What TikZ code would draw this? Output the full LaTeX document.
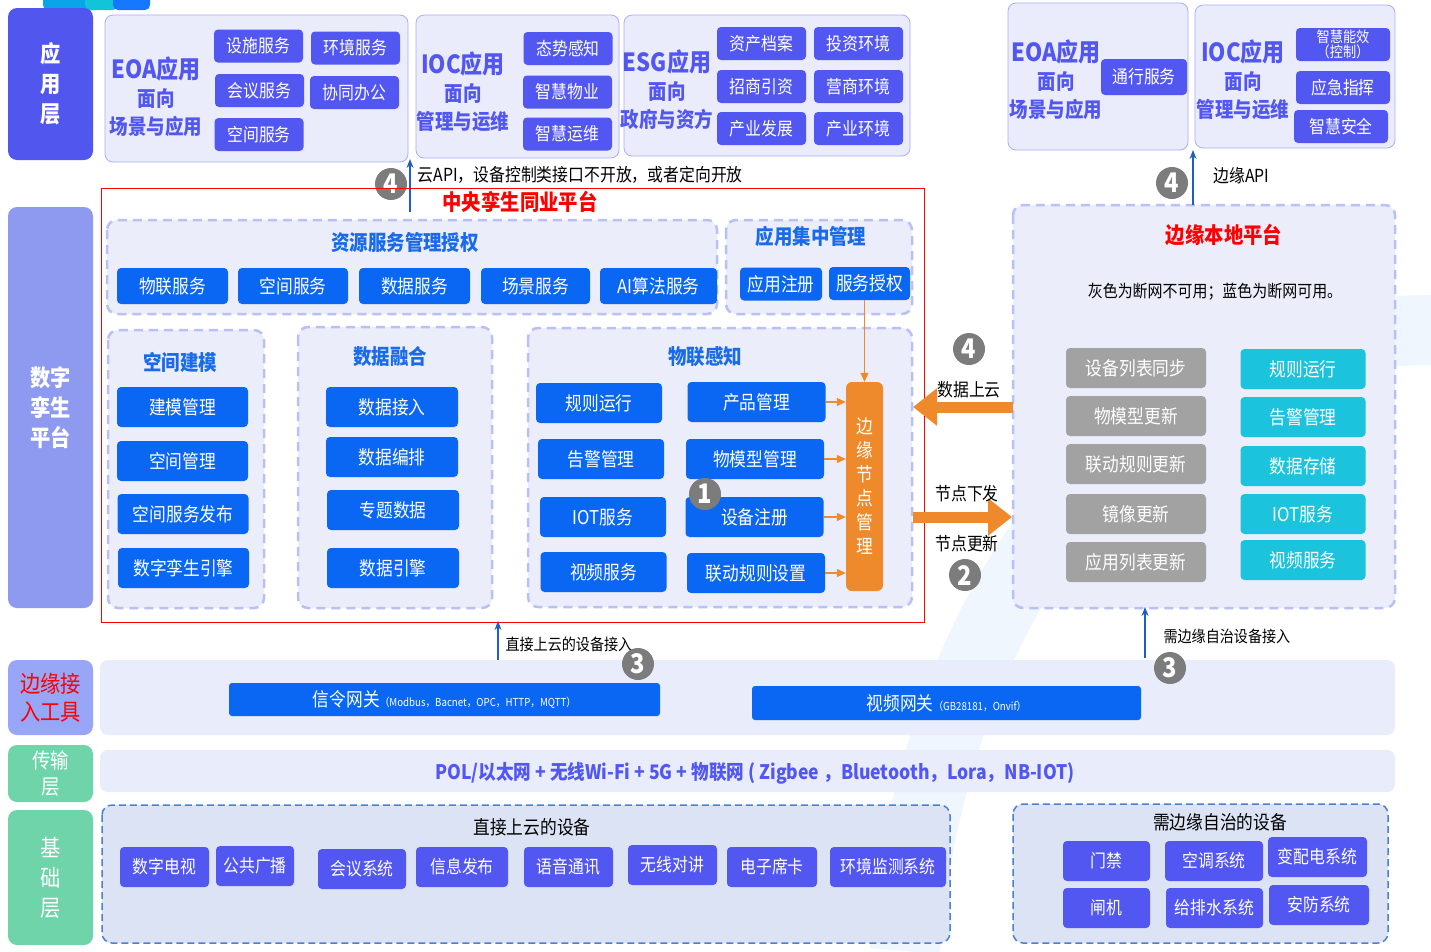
\documentclass[tikz,border=0pt]{standalone}
\usepackage{fontspec}
\setmainfont{Noto Sans CJK SC}[FakeStretch=0.88]
\usepackage{xcolor}
\usetikzlibrary{arrows.meta}
\definecolor{appblue}{HTML}{5257F1}
\definecolor{appbg}{HTML}{EAEBFB}
\definecolor{appedge}{HTML}{A9AFF4}
\definecolor{btnblue}{HTML}{0A67F3}
\definecolor{titleblue}{HTML}{1A6BEA}
\definecolor{dashblue}{HTML}{B8C0F6}
\definecolor{grpbg}{HTML}{ECEDFB}
\definecolor{nodeorange}{HTML}{EE8A2B}
\definecolor{badgegray}{HTML}{7C7C7C}
\definecolor{offgray}{HTML}{A2A2A2}
\definecolor{oncyan}{HTML}{1BC3DC}
\definecolor{lyrapp}{HTML}{5157EE}
\definecolor{lyrtwin}{HTML}{8D9AF0}
\definecolor{lyredge}{HTML}{97A6F6}
\definecolor{lyrgreen}{HTML}{6FD4AA}
\definecolor{bandbg}{HTML}{E9ECFA}
\definecolor{fndbg}{HTML}{DCE3F4}
\definecolor{fndedge}{HTML}{4C80D2}
\definecolor{apiblue}{HTML}{1F5FC0}
\definecolor{bgarc}{HTML}{EFF6FD}

\begin{document}
\begin{tikzpicture}[x=1pt,y=-1pt,
  layer/.style={rounded corners=9pt, inner sep=0pt, align=center, text=white},
  appbox/.style={draw=appedge, fill=appbg, rounded corners=8pt, line width=0.8pt},
  apptitle/.style={text=appblue, align=center, font=\fontsize{21}{28}\selectfont\bfseries},
  appbtn/.style={fill=appblue, rounded corners=4pt, text=white, inner sep=0pt,
    minimum width=89pt, minimum height=33pt, font=\fontsize{18}{20}\selectfont},
  grp/.style={draw=dashblue, fill=grpbg, dash pattern=on 9pt off 6pt, line width=2.5pt, rounded corners=10pt},
  grptitle/.style={text=titleblue, font=\fontsize{21}{23}\selectfont\bfseries},
  bbtn/.style={fill=btnblue, rounded corners=4pt, text=white, inner sep=0pt,
    minimum height=40pt, font=\fontsize{19}{21}\selectfont},
  gbtn/.style={bbtn, fill=offgray, minimum width=140pt},
  cbtn/.style={bbtn, fill=oncyan, minimum width=125pt},
  fbtn/.style={appbtn, minimum height=40pt},
  badge/.style={circle, fill=badgegray, text=white, inner sep=0pt, minimum size=32pt,
    font=\fontsize{27}{27}\selectfont\bfseries},
  note/.style={text=black, font=\fontsize{17}{20}\selectfont},
  redtitle/.style={text=red, font=\fontsize{22}{24}\selectfont\bfseries},
  apiarrow/.style={draw=apiblue, line width=1.2pt, -{Stealth[length=9pt,width=7pt]}},
  thinorange/.style={draw=nodeorange, line width=1.2pt, -{Triangle[length=9pt,width=8pt]}},
  bigarrow/.style={draw=nodeorange, line width=11pt, -{Triangle[length=24pt,width=36pt]}},
  band/.style={fill=bandbg, rounded corners=8pt},
  fnd/.style={draw=fndedge, fill=fndbg, dash pattern=on 7pt off 4pt, line width=1.5pt, rounded corners=10pt}]
\useasboundingbox (0,0) rectangle (1431,951);
\fill[white] (0,0) rectangle (1431,951);
% faint swoosh behind the right half
\draw[line width=70pt, bgarc] (1431,330) .. controls (1120,330) and (930,620) .. (905,951);

% tabs at the top
\fill[rounded corners=5pt, fill={rgb,255:red,10;green,165;blue,232}] (43,-8) rectangle (100,10);
\fill[rounded corners=5pt, fill={rgb,255:red,18;green,196;blue,216}] (85,-8) rectangle (118,10);
\fill[rounded corners=5pt, fill={rgb,255:red,22;green,119;blue,255}] (113,-8) rectangle (150,10);

% layers
\node[layer, fill=lyrapp, minimum width=85pt, minimum height=152pt, font=\fontsize{23}{30}\selectfont\bfseries] (lApp) at (50.5,84) {应\\用\\层};
\node[layer, fill=lyrtwin, minimum width=85pt, minimum height=401pt, font=\fontsize{23}{30}\selectfont\bfseries] (lTwin) at (50.5,407.5) {数字\\孪生\\平台};
\node[layer, fill=lyredge, minimum width=85pt, minimum height=75pt, text=red, font=\fontsize{23}{28}\selectfont] (lEdge) at (50.5,697.5) {边缘接\\入工具};
\node[layer, fill=lyrgreen, minimum width=85pt, minimum height=57pt, font=\fontsize{21}{26}\selectfont] (lNet) at (50.5,773.5) {传输\\层};
\node[layer, fill=lyrgreen, minimum width=85pt, minimum height=135pt, font=\fontsize{23}{30}\selectfont] (lBase) at (50.5,877.5) {基\\础\\层};

% application layer
\draw[appbox] (105,15) rectangle (408,162);
\node[apptitle] (eoaT) at (156,97) {{\fontsize{25}{28}\selectfont EOA应用}\\面向\\场景与应用};
\node[appbtn] (eoa1) at (258.5,46) {设施服务};
\node[appbtn] (eoa2) at (355.5,48) {环境服务};
\node[appbtn] (eoa3) at (259.5,90.5) {会议服务};
\node[appbtn] (eoa4) at (354.5,92.5) {协同办公};
\node[appbtn] (eoa5) at (259,134.5) {空间服务};

\draw[appbox] (416,15) rectangle (619,158);
\node[apptitle] (iocT) at (463,92) {{\fontsize{25}{28}\selectfont IOC应用}\\面向\\管理与运维};
\node[appbtn] (ioc1) at (568,48.5) {态势感知};
\node[appbtn] (ioc2) at (567.5,92) {智慧物业};
\node[appbtn] (ioc3) at (567.5,134) {智慧运维};

\draw[appbox] (624,15) rectangle (910,156);
\node[apptitle] (esgT) at (667,90) {{\fontsize{25}{28}\selectfont ESG应用}\\面向\\政府与资方};
\node[appbtn] (esg1) at (761.5,43.5) {资产档案};
\node[appbtn] (esg2) at (858.5,43.5) {投资环境};
\node[appbtn] (esg3) at (761.5,86.5) {招商引资};
\node[appbtn] (esg4) at (858.5,86.5) {营商环境};
\node[appbtn] (esg5) at (761.5,128.5) {产业发展};
\node[appbtn] (esg6) at (858.5,128.5) {产业环境};

\draw[appbox] (1008,3) rectangle (1188,150);
\node[apptitle] (eoaT2) at (1056,80) {{\fontsize{25}{28}\selectfont EOA应用}\\面向\\场景与应用};
\node[appbtn, minimum width=86pt, minimum height=36pt] (eoa6) at (1144,77) {通行服务};

\draw[appbox] (1195,5) rectangle (1395,148);
\node[apptitle] (iocT2) at (1243,80) {{\fontsize{25}{28}\selectfont IOC应用}\\面向\\管理与运维};
\node[appbtn, minimum width=94pt, align=center, font=\fontsize{15}{15}\selectfont] (ioc4) at (1343,44.5) {智慧能效\\（控制）};
\node[appbtn, minimum width=94pt] (ioc5) at (1343,87.5) {应急指挥};
\node[appbtn, minimum width=94pt] (ioc6) at (1341,126.5) {智慧安全};

% cloud API
\coordinate (cloudS) at (410,212);
\coordinate (cloudE) at (410,159);
\draw[apiarrow] (cloudS) -- (cloudE);
\node[badge] (b4a) at (391,184) {4};
\node[note, anchor=west, font=\fontsize{18}{20}\selectfont] (cloudL) at (414,175) {云API，设备控制类接口不开放，或者定向开放};

% central twin platform
\draw[red, line width=1pt] (101,188) rectangle (924,622);
\node[redtitle] (cT) at (520,202) {中央孪生同业平台};

\draw[grp] (107,220) rectangle (717,314);
\node[grptitle] (resT) at (405,242) {资源服务管理授权};
\node[bbtn, minimum width=111pt, minimum height=36pt] (res1) at (172.5,286) {物联服务};
\node[bbtn, minimum width=110pt, minimum height=36pt] (res2) at (293,286) {空间服务};
\node[bbtn, minimum width=111pt, minimum height=36pt] (res3) at (414.5,286) {数据服务};
\node[bbtn, minimum width=109pt, minimum height=36pt] (res4) at (535.5,286) {场景服务};
\node[bbtn, minimum width=117pt, minimum height=36pt] (res5) at (658.5,286) {AI算法服务};

\draw[grp] (726,220) rectangle (912,314);
\node[grptitle] (mgtT) at (811,236) {应用集中管理};
\node[bbtn, minimum width=82pt, minimum height=33pt] (areg) at (781,284) {应用注册};
\node[bbtn, minimum width=81pt, minimum height=33pt] (sauth) at (869.5,283.5) {服务授权};

\draw[grp] (108,330) rectangle (264,608);
\node[grptitle] (spT) at (180,362) {空间建模};
\node[bbtn, minimum width=131pt] (sp1) at (182.5,407) {建模管理};
\node[bbtn, minimum width=131pt] (sp2) at (182.5,461) {空间管理};
\node[bbtn, minimum width=131pt] (sp3) at (183,514) {空间服务发布};
\node[bbtn, minimum width=131pt] (sp4) at (183.5,568) {数字孪生引擎};

\draw[grp] (298,327) rectangle (492,608);
\node[grptitle] (dtT) at (390,357) {数据融合};
\node[bbtn, minimum width=132pt] (dt1) at (392,407) {数据接入};
\node[bbtn, minimum width=132pt] (dt2) at (392,457) {数据编排};
\node[bbtn, minimum width=132pt] (dt3) at (393,510) {专题数据};
\node[bbtn, minimum width=132pt] (dt4) at (393,568) {数据引擎};

\draw[grp] (528,328) rectangle (912,607);
\node[grptitle] (iotT) at (705,357) {物联感知};
\node[bbtn, minimum width=126pt] (io1) at (599,403) {规则运行};
\node[bbtn, minimum width=126pt] (io2) at (601,459) {告警管理};
\node[bbtn, minimum width=126pt] (io3) at (603,517) {IOT服务};
\node[bbtn, minimum width=126pt] (io4) at (603.5,572) {视频服务};
\node[bbtn, minimum width=138pt] (pm1) at (756.5,402) {产品管理};
\node[bbtn, minimum width=138pt] (pm2) at (755,459) {物模型管理};
\node[bbtn, minimum width=138pt] (pm3) at (754.5,517) {设备注册};
\node[bbtn, minimum width=138pt] (pm4) at (756,573) {联动规则设置};
\node[fill=nodeorange, rounded corners=6pt, text=white, inner sep=0pt, minimum width=37pt, minimum height=209pt,
  align=center, font=\fontsize{19}{24}\selectfont] (edgeMgr) at (864.5,486.5) {边\\缘\\节\\点\\管\\理};
\draw[thinorange] (pm1.east) -- (edgeMgr.west |- pm1.east);
\draw[thinorange] (pm2.east) -- (edgeMgr.west |- pm2.east);
\draw[thinorange] (pm3.east) -- (edgeMgr.west |- pm3.east);
\draw[thinorange] (pm4.east) -- (edgeMgr.west |- pm4.east);
\draw[thinorange] (edgeMgr.north |- sauth.south) -- (edgeMgr.north);
\node[badge] (b1) at (705,494) {1};

% edge local platform
\draw[grp] (1013,205) rectangle (1395,608);
\node[redtitle] (eT) at (1224,235) {边缘本地平台};
\node[note] (eNote) at (1215,292) {灰色为断网不可用；蓝色为断网可用。};
\node[gbtn] (g1) at (1136,368) {设备列表同步};
\node[gbtn] (g2) at (1136,416) {物模型更新};
\node[gbtn] (g3) at (1136,464) {联动规则更新};
\node[gbtn] (g4) at (1136,514) {镜像更新};
\node[gbtn] (g5) at (1136,562) {应用列表更新};
\node[cbtn] (c1) at (1303,369) {规则运行};
\node[cbtn] (c2) at (1303,417) {告警管理};
\node[cbtn] (c3) at (1303,466) {数据存储};
\node[cbtn] (c4) at (1303,514) {IOT服务};
\node[cbtn] (c5) at (1303,560) {视频服务};

% edge API
\coordinate (edgeS) at (1193,205);
\coordinate (edgeE) at (1193,150);
\draw[apiarrow] (edgeS) -- (edgeE);
\node[badge] (b4b) at (1172,183) {4};
\node[note, anchor=west, font=\fontsize{18}{20}\selectfont] (edgeL) at (1210,176) {边缘API};

% cloud <-> edge
\coordinate (upS) at (1013,407);
\coordinate (upE) at (913,407);
\draw[bigarrow] (upS) -- (upE);
\node[badge] (b4c) at (969,349) {4};
\node[note, font=\fontsize{18}{20}\selectfont] (upL) at (969,390) {数据上云};
\coordinate (downS) at (913,517);
\coordinate (downE) at (1012,517);
\draw[bigarrow] (downS) -- (downE);
\node[note, font=\fontsize{18}{20}\selectfont] (downL) at (967,494) {节点下发};
\node[note, font=\fontsize{18}{20}\selectfont] (updL) at (967,544) {节点更新};
\node[badge] (b2) at (965,575) {2};

% edge access tools
\fill[band] (100,660) rectangle (1395,735);
\node[bbtn, minimum width=431pt, minimum height=33pt, rounded corners=3pt] (sigGw) at (444.5,699.5)
  {信令网关{\fontsize{11}{12}\selectfont （Modbus，Bacnet，OPC，HTTP，MQTT）}};
\node[bbtn, minimum width=389pt, minimum height=34pt, rounded corners=3pt] (vidGw) at (946.5,703)
  {视频网关{\fontsize{11}{12}\selectfont （GB28181，Onvif）}};
\coordinate (dirS) at (498,660);
\coordinate (dirE) at (498,621);
\draw[apiarrow] (dirS) -- (dirE);
\node[note, anchor=west, font=\fontsize{16}{18}\selectfont] (dirL) at (502,644) {直接上云的设备接入};
\node[badge] (b3a) at (638,664) {3};
\coordinate (autS) at (1145,658);
\coordinate (autE) at (1145,607);
\draw[apiarrow] (autS) -- (autE);
\node[note, anchor=west, font=\fontsize{16}{18}\selectfont] (autL) at (1160,636) {需边缘自治设备接入};
\node[badge] (b3b) at (1170,668) {3};

% transmission layer
\fill[band] (100,750) rectangle (1395,792);
\node[text=appblue, font=\fontsize{20}{24}\selectfont\bfseries] (netT) at (755,773)
  {POL/以太网 + 无线Wi-Fi + 5G + 物联网 ( Zigbee ，Bluetooth，Lora，NB-IOT)};

% foundation layer
\draw[fnd] (102,805) rectangle (950,943);
\node[note, font=\fontsize{19}{21}\selectfont] (dirDev) at (532,827) {直接上云的设备};
\node[fbtn, minimum width=89pt] (f1) at (164.5,867) {数字电视};
\node[fbtn, minimum width=78pt] (f2) at (255,866) {公共广播};
\node[fbtn, minimum width=88pt] (f3) at (362,869) {会议系统};
\node[fbtn, minimum width=92pt] (f4) at (462,867) {信息发布};
\node[fbtn, minimum width=89pt] (f5) at (568.5,867) {语音通讯};
\node[fbtn, minimum width=89pt] (f6) at (672.5,865) {无线对讲};
\node[fbtn, minimum width=90pt] (f7) at (772,867) {电子席卡};
\node[fbtn, minimum width=116pt] (f8) at (888,867) {环境监测系统};

\draw[fnd] (1013,804) rectangle (1388,943);
\node[note, font=\fontsize{19}{21}\selectfont] (autDev) at (1220,822) {需边缘自治的设备};
\node[fbtn, minimum width=87pt] (h1) at (1106.5,861) {门禁};
\node[fbtn, minimum width=98pt] (h2) at (1214,861) {空调系统};
\node[fbtn, minimum width=99pt] (h3) at (1317.5,857) {变配电系统};
\node[fbtn, minimum width=87pt] (h4) at (1106.5,908) {闸机};
\node[fbtn, minimum width=97pt] (h5) at (1214.5,908) {给排水系统};
\node[fbtn, minimum width=100pt] (h6) at (1319,905) {安防系统};
\end{tikzpicture}
\end{document}
